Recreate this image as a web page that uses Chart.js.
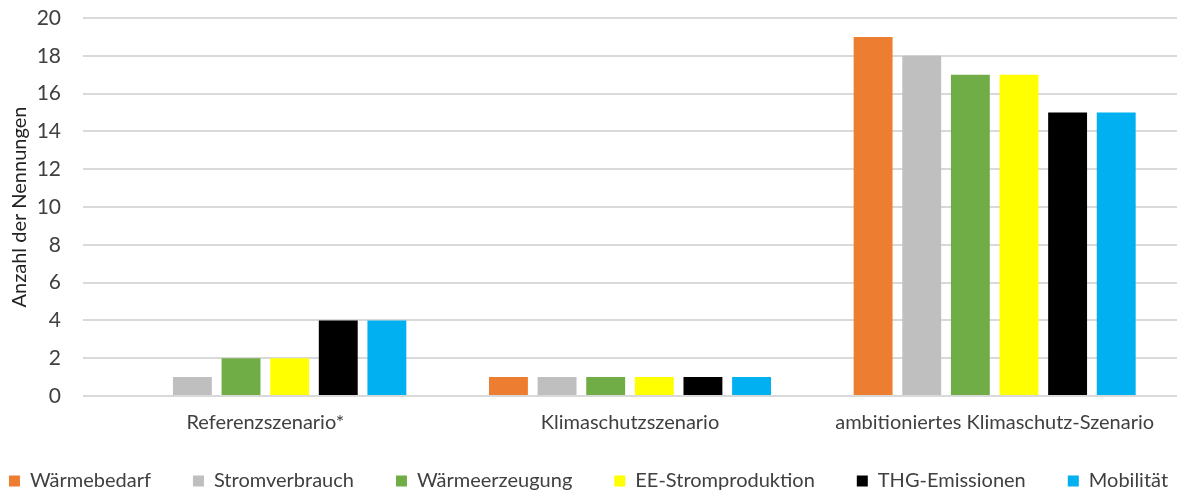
<!DOCTYPE html>
<html>
<head>
<meta charset="utf-8">
<script src="https://cdn.jsdelivr.net/npm/chart.js@4"></script>
<style>
  html, body { margin: 0; padding: 0; background: #fff; }
  #wrap { width: 1179px; height: 490px; }
</style>
</head>
<body>
<div id="wrap"><canvas id="chart"></canvas></div>
<script>
// Szenarien (Kategorien)
const szenarien = ['Referenzszenario*', 'Klimaschutzszenario', 'ambitioniertes Klimaschutz-Szenario'];

// Anzahl der Nennungen je Thema
const waermebedarf = [0, 1, 19];
const stromverbrauch = [1, 1, 18];
const waermeerzeugung = [2, 1, 17];
const eeStromproduktion = [2, 1, 17];
const thgEmissionen = [4, 1, 15];
const mobilitaet = [4, 1, 15];

const yTicks = { min: 0, max: 20, step: 2 };

const schrift = 'Lato, "Noto Sans", sans-serif';
const textFarbe = '#404040';

// Legende: grosser Abstand zwischen den Eintraegen, eine Zeile, flach halten
const legendeKompakt = {
    id: 'legendeKompakt',
    beforeUpdate(chart) {
        const legend = chart.legend;
        if (!legend || legend._kompakt) return;
        legend._kompakt = true;
        const extra = 150;
        const fit = legend.fit;
        legend.fit = function() {
            const mw = this.maxWidth;
            this.maxWidth = mw + extra;
            fit.call(this);
            this.maxWidth = mw;
            this.width = Math.min(this.width, mw);
            this.height = 50;
        };
        const draw = legend.draw;
        legend.draw = function() {
            const top = this.top, left = this.left, right = this.right;
            this.top = top - this.options.labels.padding + 31;
            this.left = left - extra;
            this.right = right + extra;
            draw.call(this);
            this.top = top;
            this.left = left;
            this.right = right;
        };
    }
};

var ctx = document.getElementById('chart').getContext('2d');
var myChart = new Chart(ctx, {
    type: 'bar',
    data: {
        labels: szenarien,
        datasets: [{
            label: 'Wärmebedarf',
            data: waermebedarf,
            backgroundColor: '#ED7D31',
        }, {
            label: 'Stromverbrauch',
            data: stromverbrauch,
            backgroundColor: '#BFBFBF',
        }, {
            label: 'Wärmeerzeugung',
            data: waermeerzeugung,
            backgroundColor: '#70AD47',
        }, {
            label: 'EE-Stromproduktion',
            data: eeStromproduktion,
            backgroundColor: '#FFFF00',
        }, {
            label: 'THG-Emissionen',
            data: thgEmissionen,
            backgroundColor: '#000000',
        }, {
            label: 'Mobilität',
            data: mobilitaet,
            backgroundColor: '#00B0F0',
        }]
    },
    plugins: [legendeKompakt],
    options: {
        responsive: true,
        maintainAspectRatio: false,
        animation: false,
        categoryPercentage: 0.8,
        barPercentage: 0.8,
        layout: { padding: { top: 0, left: 0, right: 2, bottom: 0 } },
        plugins: {
            tooltip: { enabled: false },
            legend: {
                position: 'bottom',
                labels: {
                    boxWidth: 11,
                    boxHeight: 11,
                    padding: 42,
                    color: textFarbe,
                    font: { family: schrift, size: 20 }
                }
            }
        },
        scales: {
            x: {
                grid: { display: false, drawTicks: false },
                border: { display: false },
                ticks: {
                    color: textFarbe,
                    padding: 15,
                    font: { family: schrift, size: 20 }
                },
                afterFit: function(scale) { scale.height = 44; }
            },
            y: {
                min: yTicks.min,
                max: yTicks.max,
                grid: { color: '#d9d9d9', lineWidth: 2, drawTicks: false },
                border: { display: false },
                ticks: {
                    stepSize: yTicks.step,
                    color: textFarbe,
                    padding: 22,
                    font: { family: schrift, size: 21 }
                },
                title: {
                    display: true,
                    text: 'Anzahl der Nennungen',
                    color: '#222',
                    padding: { top: 8, bottom: 0 },
                    font: { family: schrift, size: 20 }
                },
                afterFit: function(scale) {
                    scale.width = 83;
                    scale.paddingTop = 18;
                    scale.paddingBottom = 0;
                }
            }
        }
    }
});
</script>
</body>
</html>
